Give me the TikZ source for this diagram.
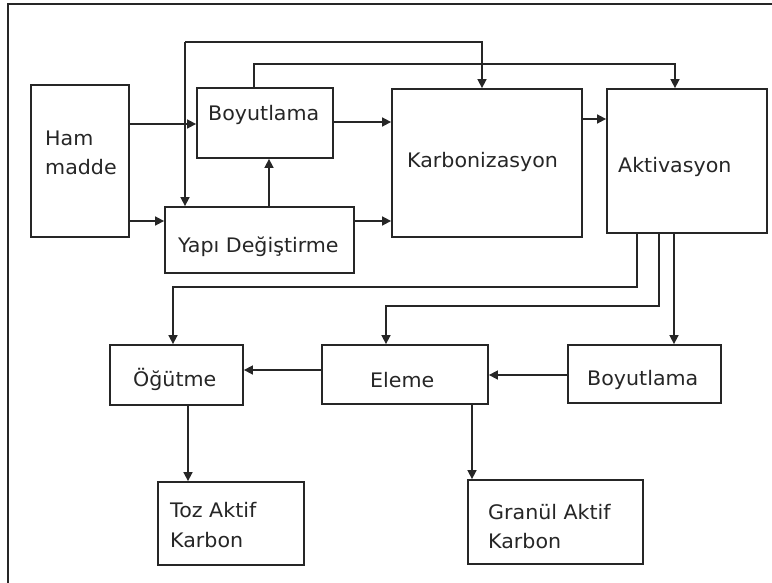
\documentclass[tikz,border=0pt]{standalone}
\usepackage{fontspec}
\setmainfont{DejaVu Sans}[FakeStretch=1.03]
\usetikzlibrary{arrows.meta}
\begin{document}
\begin{tikzpicture}[x=1pt,y=-1pt,
  stage/.style={draw=black!85, line width=1.8pt, inner sep=0pt, fill=white},
  txt/.style={anchor=base west, inner sep=0pt, text=black!85,
    font=\fontsize{20}{24}\selectfont},
  flow/.style={draw=black!85, line width=1.6pt,
    -{Triangle[length=9pt,width=9pt]}}]
\useasboundingbox (0,0) rectangle (772,583);

% outer frame
\draw[line width=1.4pt, black!85] (8,583) -- (8,4) -- (772,4);

% process boxes
\node[stage, minimum width=98pt,  minimum height=152pt] (ham)   at (80,161) {};
\node[stage, minimum width=136pt, minimum height=70pt]  (boy1)  at (265,123) {};
\node[stage, minimum width=189pt, minimum height=66pt]  (yapi)  at (259.5,240) {};
\node[stage, minimum width=190pt, minimum height=148pt] (karb)  at (487,163) {};
\node[stage, minimum width=160pt, minimum height=144pt] (akt)   at (687,161) {};
\node[stage, minimum width=133pt, minimum height=60pt]  (ogut)  at (176.5,375) {};
\node[stage, minimum width=166pt, minimum height=59pt]  (eleme) at (405,374.5) {};
\node[stage, minimum width=153pt, minimum height=58pt]  (boy2)  at (644.5,374) {};
\node[stage, minimum width=146pt, minimum height=83pt]  (toz)   at (231,523.5) {};
\node[stage, minimum width=175pt, minimum height=84pt]  (gran)  at (555.5,522) {};

% labels
\node[txt] (tham1) at (45,146) {Ham};
\node[txt] (tham2) at (45,175) {madde};
\node[txt] (tboy1) at (208,121) {Boyutlama};
\node[txt] (tyapi) at (178,252) {Yapı Değiştirme};
\node[txt] (tkarb) at (407,168) {Karbonizasyon};
\node[txt] (takt)  at (618,173) {Aktivasyon};
\node[txt] (togut) at (133,386) {Öğütme};
\node[txt] (telem) at (370,387) {Eleme};
\node[txt] (tboy2) at (587,385) {Boyutlama};
\node[txt] (ttoz1) at (170,517) {Toz Aktif};
\node[txt] (ttoz2) at (170,547) {Karbon};
\node[txt] (tgra1) at (488,519) {Granül Aktif};
\node[txt] (tgra2) at (488,548) {Karbon};

% junction of the branching line from the raw material
\coordinate (j1) at (185,42);

% upper section
\draw[flow] (ham.east |- 0,124) -- (boy1.west |- 0,124);
\draw[flow] (ham.east |- 0,221) -- (yapi.west |- 0,221);
\draw[flow] (yapi.north -| 269,0) -- (boy1.south -| 269,0);
\draw[flow] (boy1.east |- 0,122) -- (karb.west |- 0,122);
\draw[flow] (yapi.east |- 0,221) -- (karb.west |- 0,221);
\draw[flow] (karb.east |- 0,119) -- (akt.west |- 0,119);
\draw[flow] (j1) -- (j1 -| 482,0) -- (karb.north -| 482,0);
\draw[flow] (j1) -- (yapi.north -| j1);
\draw[flow] (boy1.north -| 254,0) |- (675,64) -- (akt.north -| 675,0);

% lower section
\draw[flow] (akt.south -| 637,0) |- (173,287) -- (ogut.north -| 173,0);
\draw[flow] (akt.south -| 659,0) |- (386,306) -- (eleme.north -| 386,0);
\draw[flow] (akt.south -| 674,0) -- (boy2.north -| 674,0);
\draw[flow] (boy2.west |- 0,375) -- (eleme.east |- 0,375);
\draw[flow] (eleme.west |- 0,370) -- (ogut.east |- 0,370);
\draw[flow] (ogut.south -| 188,0) -- (toz.north -| 188,0);
\draw[flow] (eleme.south -| 472,0) -- (gran.north -| 472,0);
\end{tikzpicture}
\end{document}
